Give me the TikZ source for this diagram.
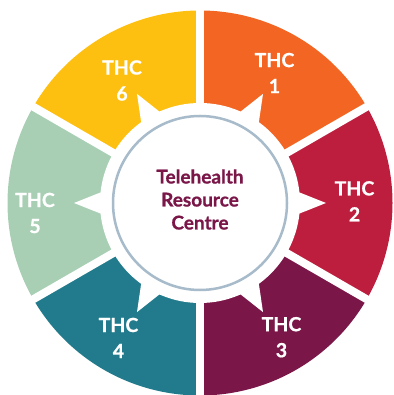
\documentclass[tikz,border=0pt]{standalone}
\usepackage{fontspec}
\setmainfont{Lato}[BoldFeatures={FakeBold=0.8}]
\definecolor{cA}{HTML}{F26522}
\definecolor{cB}{HTML}{BE1E3E}
\definecolor{cC}{HTML}{7A1648}
\definecolor{cD}{HTML}{217B8C}
\definecolor{cE}{HTML}{A8CFB4}
\definecolor{cF}{HTML}{FDC010}
\definecolor{ringcol}{HTML}{A7BBCB}
\definecolor{hubtext}{HTML}{7A1648}
\tikzset{
  lbl/.style={text=white, font=\bfseries\fontsize{19.5}{26}\selectfont, align=center, inner sep=0pt},
  hubstyle/.style={text=hubtext, font=\bfseries\fontsize{19}{23}\selectfont, align=center, inner sep=0pt},
  gap/.style={white, line width=8pt},
  ring/.style={draw=ringcol, line width=2.5pt}
}
\begin{document}
\begin{tikzpicture}[x=1pt,y=1pt]
\useasboundingbox (0,0) rectangle (393,395);
\coordinate (c) at (200,192);
% sectors
\foreach \s/\e/\col in {90/30/cA, 30/-30/cB, -30/-90/cC, -90/-150/cD, -150/-210/cE, 150/90/cF}{
  \fill[\col] (c) -- ++(\s:192.5) arc[start angle=\s, end angle=\e, radius=192.5] -- cycle;
}
% gaps
\foreach \a in {90,30,-30,-90,-150,150}{
  \draw[gap] (c) -- ++(\a:200);
}
% white star hub
\fill[white] (c) circle[radius=100];
\foreach \a in {60,0,-60,-120,180,120}{
  \fill[white, shift={(200,192)}] (\a+7:97) -- (\a:126) -- (\a-7:97) -- cycle;
}
\draw[ring] (c) circle[radius=87];
% labels
\node[lbl] (t1) at (274.5,322) {THC\\1};
\node[lbl] (t2) at (354.5,193.7) {THC\\2};
\node[lbl] (t3) at (281.5,57.8) {THC\\3};
\node[lbl] (t4) at (118.5,57.1) {THC\\4};
\node[lbl] (t5) at (35,182) {THC\\5};
\node[lbl] (t6) at (122,314.5) {THC\\6};
\node[hubstyle] (hub) at (200,195.5) {Telehealth\\Resource\\Centre};
\end{tikzpicture}
\end{document}
